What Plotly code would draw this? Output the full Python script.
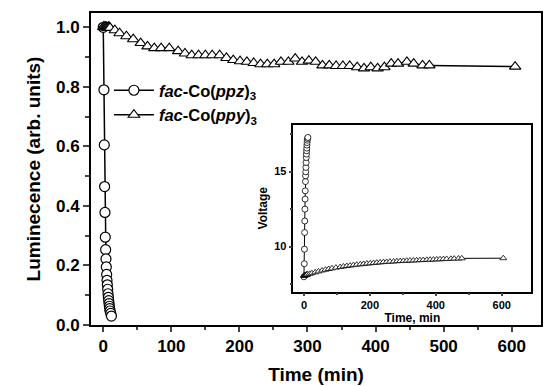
import plotly.graph_objects as go

# ---- data ----
ppz_time = [0, 1, 1.5, 2, 2.5, 3, 3.5, 4, 4.5, 5, 5.5, 6, 6.5, 7, 7.5, 8, 8.5, 9, 9.5, 10, 11, 12]
ppz_lum = [1.0, 0.79, 0.605, 0.465, 0.378, 0.295, 0.253, 0.222, 0.195, 0.17, 0.15, 0.135,
           0.12, 0.105, 0.093, 0.082, 0.072, 0.063, 0.055, 0.047, 0.039, 0.03]
ppz_volt = [7.98, 8.85, 9.82, 10.93, 11.7, 12.49, 13.16, 13.71, 14.33, 14.71, 14.98, 15.27,
            15.6, 15.93, 16.16, 16.38, 16.56, 16.76, 16.93, 17.09, 17.2, 17.27]

ppy_time = [0, 1, 2, 3, 4, 5, 6, 7, 8, 9, 10,
            17, 24, 34, 44, 55, 65, 75, 85, 97, 110,
            120, 130, 140, 150, 160,
            171, 181, 191, 201, 211, 221, 231, 241, 251, 261,
            272, 282, 292, 302, 312, 322, 332, 342, 352, 362,
            373, 383, 393, 403, 413, 423, 433,
            446, 456, 469, 479,
            605]
ppy_lum = [1.0, 1.003, 1.0, 1.002, 1.0, 1.001, 0.999, 1.0, 1.002, 1.0, 0.998,
           0.99, 0.98, 0.97, 0.96, 0.947, 0.936, 0.93, 0.93, 0.93, 0.92,
           0.912, 0.906, 0.906, 0.906, 0.906,
           0.906, 0.897, 0.89, 0.886, 0.884, 0.88, 0.876, 0.876, 0.876, 0.884,
           0.884, 0.895, 0.884, 0.888, 0.884, 0.872, 0.872, 0.87, 0.87, 0.87,
           0.866, 0.862, 0.866, 0.862, 0.866, 0.878, 0.878,
           0.884, 0.878, 0.872, 0.872,
           0.868]
ppy_volt = [8.05, 8.06, 8.07, 8.08, 8.09, 8.1, 8.1, 8.11, 8.12, 8.13, 8.14,
            8.18, 8.22, 8.28, 8.34, 8.4, 8.45, 8.5, 8.54, 8.59, 8.63,
            8.67, 8.7, 8.73, 8.76, 8.79,
            8.81, 8.84, 8.86, 8.88, 8.9, 8.92, 8.94, 8.96, 8.97, 8.99,
            9.0, 9.02, 9.03, 9.04, 9.05, 9.06, 9.07, 9.08, 9.09, 9.1,
            9.11, 9.12, 9.13, 9.14, 9.15, 9.16, 9.17,
            9.18, 9.19, 9.2, 9.21,
            9.22]

main_xticks = [0, 100, 200, 300, 400, 500, 600]
main_yticks = [0.0, 0.2, 0.4, 0.6, 0.8, 1.0]
inset_xticks = [0, 200, 400, 600]
inset_yticks = [10, 15]

FONT = "Liberation Sans, Arial, sans-serif"

fig = go.Figure()

fig.add_trace(go.Scatter(
    x=ppz_time, y=ppz_lum, mode="lines+markers",
    name="<b><i>fac</i>-Co(<i>ppz</i>)<sub>3</sub></b>",
    line=dict(color="black", width=1.5),
    marker=dict(symbol="circle", size=10, color="white", line=dict(color="black", width=1.2)),
    xaxis="x", yaxis="y"))
fig.add_trace(go.Scatter(
    x=ppy_time, y=ppy_lum, mode="lines+markers",
    name="<b><i>fac</i>-Co(<i>ppy</i>)<sub>3</sub></b>",
    line=dict(color="black", width=1.5),
    marker=dict(symbol="triangle-up", size=10, color="white", line=dict(color="black", width=1.1)),
    xaxis="x", yaxis="y"))

# inset
fig.add_trace(go.Scatter(
    x=ppz_time, y=ppz_volt, mode="lines+markers", showlegend=False,
    line=dict(color="black", width=1),
    marker=dict(symbol="circle", size=6, color="white", line=dict(color="black", width=0.8)),
    xaxis="x2", yaxis="y2"))
fig.add_trace(go.Scatter(
    x=ppy_time, y=ppy_volt, mode="lines+markers", showlegend=False,
    line=dict(color="black", width=1),
    marker=dict(symbol="triangle-up", size=6, color="white", line=dict(color="black", width=0.8)),
    xaxis="x2", yaxis="y2"))

L, R, T, B = 91, 1, 13, 61
W, H = 544, 386
pw, ph = W - L - R, H - T - B

def fx(px):
    return (px - L) / pw

def fy(py):
    return (H - B - py) / ph

fig.update_layout(
    width=W, height=H,
    margin=dict(l=L, r=R, t=T, b=B),
    paper_bgcolor="white", plot_bgcolor="white",
    font=dict(family=FONT, color="black"),
    showlegend=True,
    legend=dict(x=fx(109), y=fy(73), xanchor="left", yanchor="top",
                bgcolor="rgba(0,0,0,0)", font=dict(size=16.5, family=FONT),
                itemwidth=40, tracegroupgap=0),
    xaxis=dict(domain=[0, 1], range=[-18, 643], tickvals=main_xticks,
               ticks="outside", ticklen=5, tickwidth=2, showline=True, linewidth=2,
               linecolor="black", mirror=True, showgrid=False, zeroline=False,
               tickfont=dict(size=17, family=FONT, weight="bold"),
               minor=dict(tickvals=[50, 150, 250, 350, 450, 550], ticks="outside",
                          ticklen=3, tickwidth=2, showgrid=False),
               title=dict(text="<b>Time (min)</b>", font=dict(size=19, family=FONT), standoff=12),
               anchor="y"),
    yaxis=dict(domain=[0, 1], range=[0, 1.048], tickvals=main_yticks, tickformat=".1f",
               ticks="outside", ticklen=6, tickwidth=2, showline=True, linewidth=2,
               linecolor="black", mirror=True, showgrid=False, zeroline=False,
               tickfont=dict(size=17, family=FONT, weight="bold"),
               minor=dict(tickvals=[0.1, 0.3, 0.5, 0.7, 0.9], ticks="outside",
                          ticklen=4, tickwidth=2, showgrid=False),
               title=dict(text="<b>Luminecence (arb. units)</b>", font=dict(size=19, family=FONT), standoff=10),
               anchor="x"),
    xaxis2=dict(domain=[fx(294.3), fx(533.3)], range=[-32, 690], tickvals=inset_xticks,
                ticks="outside", ticklen=3, tickwidth=1.5, showline=True, linewidth=1.5,
                linecolor="black", mirror=True, showgrid=False, zeroline=False,
                tickfont=dict(size=11, family=FONT, weight="bold"),
                minor=dict(tickvals=[100, 300, 500], ticks="outside", ticklen=2,
                           tickwidth=1.5, showgrid=False),
                title=dict(text="<b>Time, min</b>", font=dict(size=12, family=FONT), standoff=2),
                anchor="y2"),
    yaxis2=dict(domain=[fy(291.5), fy(125)], range=[7, 18.1], tickvals=inset_yticks,
                ticks="outside", ticklen=3, tickwidth=1.5, showline=True, linewidth=1.5,
                linecolor="black", mirror=True, showgrid=False, zeroline=False,
                tickfont=dict(size=11, family=FONT, weight="bold"),
                minor=dict(tickvals=[7.5, 12.5, 17.5], ticks="outside", ticklen=2,
                           tickwidth=1.5, showgrid=False),
                title=dict(text="<b>Voltage</b>", font=dict(size=12, family=FONT), standoff=4),
                anchor="x2"),
)

fig.write_html("out.html")
